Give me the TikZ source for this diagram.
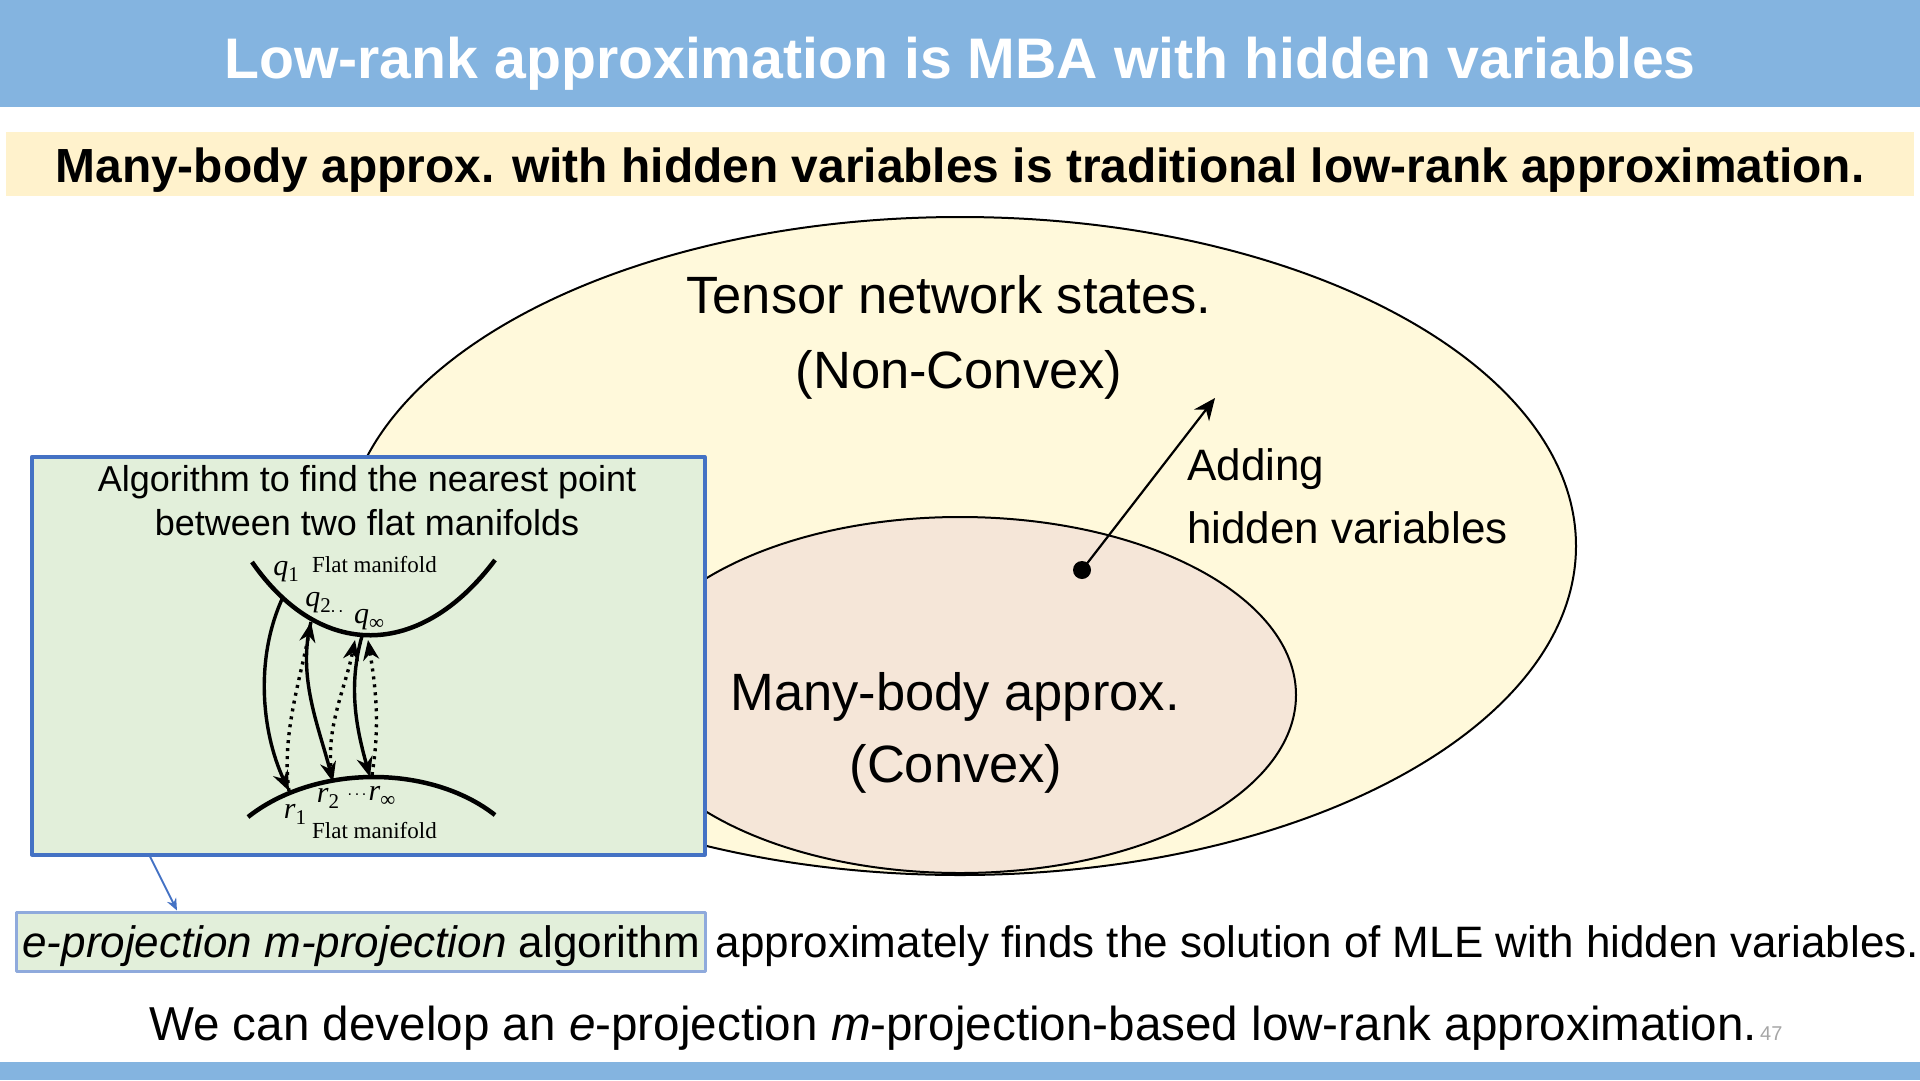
\documentclass[tikz,border=0pt]{standalone}
\usepackage{fontspec}
\setmainfont{Liberation Sans}
\newfontfamily\seriffont{Liberation Serif}
\usetikzlibrary{arrows.meta,positioning}

\definecolor{barblue}{HTML}{84B4E0}
\definecolor{bandyellow}{HTML}{FFF2CC}
\definecolor{tnsfill}{HTML}{FFF9DB}
\definecolor{mbafill}{HTML}{F5E6D8}
\definecolor{boxgreen}{HTML}{E2EFDA}
\definecolor{boxblue}{HTML}{4472C4}

\def\fsize#1#2{\fontsize{#1}{#2}\selectfont}
\def\mlab#1#2{{\seriffont\itshape #1\/}{\seriffont\fsize{21}{21}\raisebox{-6pt}{#2}}}

\begin{document}
\begin{tikzpicture}[x=1pt,y=-1pt,line join=round]
	\tikzstyle{every node}=[inner sep=0pt]
	\tikzstyle{big text}=[font=\fsize{52.5}{60},anchor=base]
	\tikzstyle{mid text}=[font=\fsize{44}{50},anchor=base west]
	\tikzstyle{box text}=[font=\fsize{36}{40},anchor=base]
	\tikzstyle{manifold}=[line width=4.5pt]
	\tikzstyle{mproj}=[line width=3.4pt,-{Stealth[length=20pt,width=16pt]}]
	\tikzstyle{eproj}=[mproj,dash pattern=on 3pt off 5pt]
	\tikzstyle{lab}=[font=\fsize{30}{30}]
	\tikzstyle{manifold name}=[font=\seriffont\fsize{23}{23},anchor=base west]

	\useasboundingbox (0,0) rectangle (1920,1080);

	% Draw the title bar and the summary band
	\fill[barblue] (0,0) rectangle (1920,107);
	\fill[barblue] (0,1062) rectangle (1920,1080);
	\fill[bandyellow] (6,132) rectangle (1914,196);
	\node[anchor=base,text=white,font=\bfseries\fsize{57.2}{60}] (title) at (960,78) {Low-rank approximation is MBA with hidden variables};
	\node[anchor=base,font=\bfseries\fsize{47.9}{50}] (summary) at (960,182) {Many-body approx. with hidden variables is traditional low-rank approximation.};

	% Draw the two model sets
	\draw[fill=tnsfill,line width=2pt] (960,546) ellipse [x radius=616pt,y radius=329pt];
	\draw[fill=mbafill,line width=2pt] (960,695) ellipse [x radius=336pt,y radius=178pt];
	\node[big text] (tns-1) at (949,313) {Tensor network states.};
	\node[big text] (tns-2) at (959,388) {(Non-Convex)};
	\node[big text] (mba-1) at (955,710) {Many-body approx.};
	\node[big text] (mba-2) at (956,782) {(Convex)};

	% Adding hidden variables
	\node[circle,fill=black,minimum size=18pt] (mbpt) at (1082,570) {};
	\coordinate (tnspt) at (1215,398);
	\draw[line width=2.2pt,-{Stealth[length=22pt,width=19pt]}] (mbpt.center) -- (tnspt);
	\node[mid text] (add-1) at (1187,480) {Adding};
	\node[mid text] (add-2) at (1187,543) {hidden variables};

	% The inset with the alternating projections
	\node[draw=boxblue,line width=3.5pt,fill=boxgreen,minimum width=673pt,minimum height=398pt,anchor=north west] (algobox) at (30,455) {};
	\node[box text] (algo-1) at (367,491) {Algorithm to find the nearest point};
	\node[box text] (algo-2) at (367,535) {between two flat manifolds};

	\coordinate (Q-a) at (252,562);
	\coordinate (Q-b) at (495,560);
	\coordinate (R-a) at (248,817);
	\coordinate (R-b) at (495,815);
	\draw[manifold] (Q-a) .. controls (320,660) and (420,660) .. (Q-b);
	\draw[manifold] (R-a) .. controls (315,764) and (430,764) .. (R-b);

	\coordinate (q-1) at (283,597);
	\coordinate (q-2) at (311,622);
	\coordinate (q-3) at (362,636);
	\coordinate (q-3l) at (355,640);
	\coordinate (q-3r) at (368,640);
	\coordinate (r-1) at (289,791);
	\coordinate (r-2) at (333,782);
	\coordinate (r-3) at (370,777);
	\coordinate (r-3r) at (372,775);

	\draw[mproj] (q-1) .. controls +(-28,60) and +(-28,-60) .. (r-1);
	\draw[eproj] (r-1) .. controls +(-8,-55) and +(-10,55) .. (q-2);
	\draw[mproj] (q-2) .. controls +(-14,55) and +(-14,-55) .. (r-2);
	\draw[eproj] (r-2) .. controls +(-10,-50) and +(-10,50) .. (q-3l);
	\draw[mproj] (q-3) .. controls +(-14,50) and +(-14,-50) .. (r-3);
	\draw[eproj] (r-3r) .. controls +(8,-50) and +(8,50) .. (q-3r);

	\node[lab] (ql-1) at (286,572) {\mlab{q}{1}};
	\node[lab] (ql-2) at (318,603) {\mlab{q}{2}};
	\node[lab] (ql-dots) at (337,612) {\fsize{18}{18}.\,.};
	\node[lab] (ql-3) at (369,620) {\mlab{q}{∞}};
	\node[lab] (rl-1) at (295,814) {\mlab{r}{1}};
	\node[lab] (rl-2) at (328,798) {\mlab{r}{2}};
	\node[lab] (rl-dots) at (357,795) {\fsize{16}{16}.\,.\,.};
	\node[lab] (rl-3) at (382,796) {\mlab{r}{∞}};
	\node[manifold name] (qname) at (312,572) {Flat manifold};
	\node[manifold name] (rname) at (312,838) {Flat manifold};

	% The two conclusions
	\node[draw=boxblue!60,line width=3pt,fill=boxgreen,anchor=base west,inner xsep=6pt,inner ysep=9pt,text height=36pt,text depth=5pt,font=\fsize{44}{44}] (hl) at (15,957) {\textit{e-projection m-projection} algorithm};
	\node[anchor=base west,font=\fsize{44}{44}] (hl-rest) at ([xshift=8pt]hl.base east) {approximately finds the solution of MLE with hidden variables.};
	\draw[boxblue,line width=2pt,-{Stealth[length=12pt,width=10pt]}] ([xshift=120pt]algobox.south west) -- ([xshift=162pt]hl.north west);
	\node[anchor=base west,font=\fsize{47.6}{48}] (outlook) at (149,1040) {We can develop an \textit{e}-projection \textit{m}-projection-based low-rank approximation.};
	\node[anchor=base west,text=gray!70,font=\fsize{20}{20}] (pageno) at (1760,1040) {47};
\end{tikzpicture}
\end{document}
